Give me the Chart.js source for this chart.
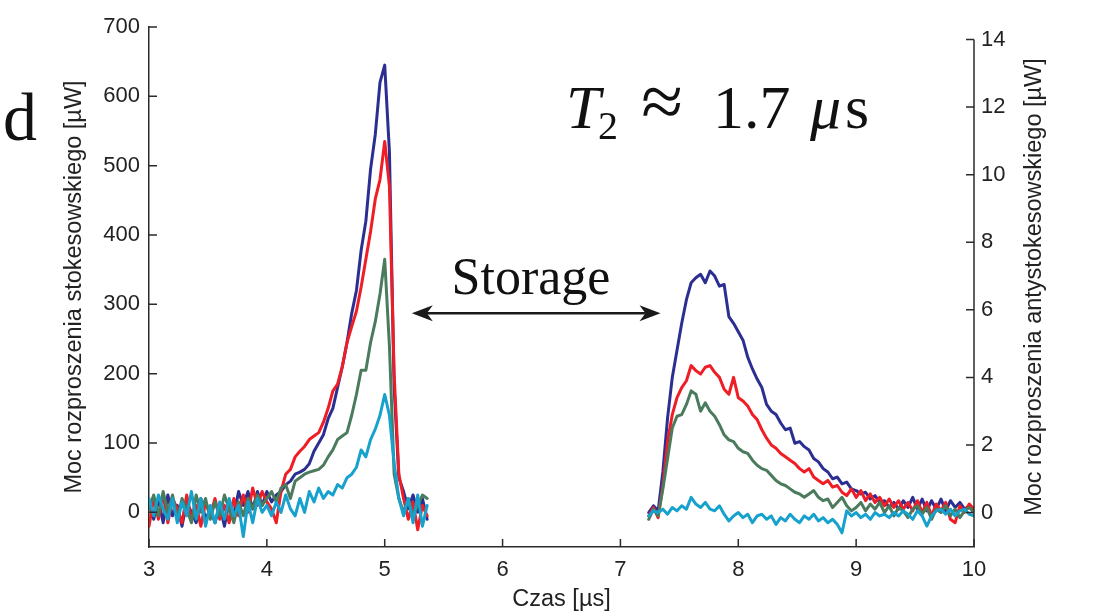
<!DOCTYPE html>
<html>
<head>
<meta charset="utf-8">
<title>T2 storage</title>
<script src="https://cdn.jsdelivr.net/npm/chart.js@4.4.0/dist/chart.umd.min.js"></script>
<style>
  html, body { margin: 0; padding: 0; background: #fff; }
  #chart { display: block; }
</style>
</head>
<body>
<canvas id="chart" width="1106" height="612"></canvas>
<script>
// Stokes pulse (left axis, µW)
const stokesTime = [
  3.00,3.04,3.08,3.12,3.16,3.20,3.24,3.28,3.32,3.36,
  3.40,3.44,3.48,3.52,3.56,3.60,3.64,3.68,3.72,3.76,
  3.80,3.84,3.88,3.92,3.96,4.00,4.04,4.08,4.12,4.16,
  4.20,4.24,4.28,4.32,4.36,4.40,4.44,4.48,4.52,4.56,
  4.60,4.64,4.68,4.72,4.76,4.80,4.84,4.88,4.92,4.96,
  5.00,5.04,5.08,5.12,5.16,5.20,5.24,5.28,5.32,5.36
];
const stokesBlue = [
  15,-10,20,-15,25,-5,10,-20,15,0,
  -15,20,-10,5,-15,10,-20,15,-5,30,
  10,30,5,30,10,30,15,25,30,40,
  45,55,58,62,70,88,100,112,135,150,
  180,210,245,287,320,378,420,495,545,620,
  645,520,180,50,30,5,25,0,20,-10
];
const stokesRed = [
  -20,20,-10,25,-15,20,5,-15,25,-10,
  10,-20,15,-5,20,-10,10,-15,20,-5,
  25,0,35,10,30,15,5,-15,30,55,
  62,80,88,95,105,110,115,130,150,175,
  185,210,245,268,290,325,365,405,452,480,
  535,470,200,55,20,-10,15,-25,10,-5
];
const stokesGreen = [
  5,25,-5,30,0,25,-10,20,5,-15,
  25,0,20,-10,15,-5,25,5,-15,15,
  -5,20,5,25,10,20,30,15,35,40,
  20,45,50,55,58,60,62,68,80,90,
  105,110,115,140,170,205,205,245,275,315,
  365,240,55,20,0,20,-5,10,25,20
];
const stokesCyan = [
  20,-5,25,5,-10,20,-15,15,-5,30,
  -10,20,-20,10,-15,15,-10,20,-5,10,
  -35,15,-15,20,0,10,-5,15,0,25,
  5,-5,20,0,30,15,35,20,30,25,
  40,35,50,55,65,90,80,105,120,140,
  170,140,70,20,-5,20,-15,25,-20,10
];

// anti-Stokes pulse (right axis, µW)
const antiTime = [
  7.24,7.28,7.32,7.36,7.40,7.44,7.48,7.52,7.56,7.60,
  7.64,7.68,7.72,7.76,7.80,7.84,7.88,7.92,7.96,8.00,
  8.04,8.08,8.12,8.16,8.20,8.24,8.28,8.32,8.36,8.40,
  8.44,8.48,8.52,8.56,8.60,8.64,8.68,8.72,8.76,8.80,
  8.84,8.88,8.92,8.96,9.00,9.04,9.08,9.12,9.16,9.20,
  9.24,9.28,9.32,9.36,9.40,9.44,9.48,9.52,9.56,9.60,
  9.64,9.68,9.72,9.76,9.80,9.84,9.88,9.92,9.96,10.00
];
const antiBlue = [
  0.0,0.2,0.05,1.2,2.8,4.0,4.8,5.6,6.3,6.8,
  6.95,7.05,6.8,7.15,7.0,6.7,6.75,5.8,5.6,5.35,
  5.1,4.6,4.25,3.95,3.7,3.2,3.0,2.9,2.65,2.45,
  2.5,2.05,2.1,1.95,1.85,1.6,1.5,1.3,1.2,1.0,
  1.05,0.85,0.9,0.7,0.65,0.55,0.6,0.4,0.5,0.3,
  0.35,0.15,0.3,0.1,0.35,0.15,0.45,0.1,0.4,0.05,
  0.35,0.1,0.4,0.05,0.35,0.15,0.3,0.1,0.2,0.1
];
const antiRed = [
  -0.1,0.15,-0.15,0.8,2.1,2.9,3.4,3.7,3.9,4.35,
  4.2,4.1,4.3,4.35,4.15,4.0,3.65,3.5,4.0,3.4,
  3.3,3.15,2.9,2.75,2.45,2.2,2.0,1.9,1.75,1.65,
  1.55,1.45,1.3,1.2,1.3,1.05,0.95,0.85,0.95,0.75,
  0.8,0.6,0.5,0.7,0.45,0.65,0.35,0.55,0.3,0.45,
  0.2,0.4,0.15,0.35,0.1,0.3,0.05,0.35,0.0,0.3,
  -0.1,0.25,0.05,0.3,-0.2,-0.3,0.2,0.0,0.25,0.1
];
const antiGreen = [
  -0.2,0.1,-0.1,0.7,1.6,2.5,2.85,2.9,3.2,3.6,
  3.5,3.0,3.25,3.0,2.85,2.6,2.3,2.15,2.1,1.9,
  1.8,1.75,1.55,1.4,1.3,1.25,1.1,0.95,0.85,0.8,
  0.7,0.6,0.55,0.45,0.55,0.65,0.45,0.35,0.4,0.15,
  0.3,0.45,0.2,0.05,0.15,0.3,0.05,0.25,0.1,0.3,
  0.0,0.2,-0.1,0.15,0.05,-0.15,0.1,0.2,-0.05,0.15,
  -0.2,0.1,0.0,0.2,-0.1,0.1,-0.15,0.05,0.15,0.0
];
const antiCyan = [
  -0.1,0.05,0.0,0.1,-0.05,0.15,0.05,0.2,0.1,0.45,
  0.25,0.15,0.3,0.1,0.05,0.2,-0.05,-0.25,-0.1,0.0,
  -0.15,-0.05,-0.3,-0.1,-0.05,-0.2,-0.1,-0.35,-0.15,-0.25,
  -0.05,-0.2,-0.3,-0.1,-0.2,-0.05,-0.25,-0.15,-0.3,-0.2,
  -0.35,-0.6,0.05,-0.1,0.0,-0.15,-0.05,-0.2,0.0,-0.1,
  -0.05,-0.15,0.0,-0.1,0.05,-0.05,-0.2,0.05,-0.1,-0.4,
  -0.1,0.05,0.1,-0.05,0.1,-0.1,0.05,0.1,-0.05,-0.1
];

const xTicks = [3, 4, 5, 6, 7, 8, 9, 10];
const leftTicks = [0, 100, 200, 300, 400, 500, 600, 700];
const rightTicks = [0, 2, 4, 6, 8, 10, 12, 14];

// "Storage" arrow, in data units (time, left axis)
const arrowFrom = 5.23;
const arrowTo = 7.34;
const arrowLevel = 287;

const colors = { blue: '#2b2f92', red: '#ee1d26', green: '#4b7b5d', cyan: '#17a1cd' };
const axisColor = '#2a2a2a';

function points(times, values) {
    return times.map((t, i) => ({ x: t, y: values[i] }));
}

function series(times, values, color, axis) {
    return {
        data: points(times, values),
        borderColor: color,
        borderWidth: 3,
        borderJoinStyle: 'round',
        borderCapStyle: 'round',
        pointRadius: 0,
        tension: 0,
        yAxisID: axis,
    };
}

// dataset 0 is drawn on top
const datasets = [
    series(stokesTime, stokesCyan, colors.cyan, 'y'),
    series(antiTime, antiCyan, colors.cyan, 'y2'),
    series(stokesTime, stokesGreen, colors.green, 'y'),
    series(antiTime, antiGreen, colors.green, 'y2'),
    series(stokesTime, stokesRed, colors.red, 'y'),
    series(antiTime, antiRed, colors.red, 'y2'),
    series(stokesTime, stokesBlue, colors.blue, 'y'),
    series(antiTime, antiBlue, colors.blue, 'y2'),
];

const sans = '"Liberation Sans", Arial, sans-serif';
const tickFont = { family: sans, size: 22 };
const titleFont = { family: sans, size: 23.5, lineHeight: 1 };

function fixedTicks(values) {
    return scale => { scale.ticks = values.map(v => ({ value: v })); };
}

// inward tick marks, the short right axis line, and the figure labels
const decorations = {
    id: 'decorations',
    afterDraw(chart) {
        const { ctx, chartArea } = chart;
        const { x, y, y2 } = chart.scales;
        const tickLen = 8;

        ctx.save();
        ctx.strokeStyle = axisColor;
        ctx.lineWidth = 1.5;

        ctx.beginPath();
        ctx.moveTo(chartArea.right, y2.getPixelForValue(rightTicks[rightTicks.length - 1]));
        ctx.lineTo(chartArea.right, chartArea.bottom);
        ctx.stroke();

        ctx.beginPath();
        xTicks.forEach(v => {
            const px = x.getPixelForValue(v);
            ctx.moveTo(px, chartArea.bottom);
            ctx.lineTo(px, chartArea.bottom - tickLen);
        });
        leftTicks.forEach(v => {
            const py = y.getPixelForValue(v);
            ctx.moveTo(chartArea.left, py);
            ctx.lineTo(chartArea.left + tickLen, py);
        });
        rightTicks.forEach(v => {
            const py = y2.getPixelForValue(v);
            ctx.moveTo(chartArea.right, py);
            ctx.lineTo(chartArea.right - tickLen, py);
        });
        ctx.stroke();

        // right axis title reads bottom to top
        ctx.fillStyle = '#222';
        ctx.font = '23.5px ' + sans;
        ctx.textAlign = 'center';
        ctx.textBaseline = 'middle';
        ctx.save();
        ctx.translate(1035, (chartArea.top + chartArea.bottom) / 2);
        ctx.rotate(-Math.PI / 2);
        ctx.fillText('Moc rozproszenia antystokesowskiego [µW]', 0, 0);
        ctx.restore();

        // double arrow between the two pulses
        const ax0 = x.getPixelForValue(arrowFrom);
        const ax1 = x.getPixelForValue(arrowTo);
        const ay = y.getPixelForValue(arrowLevel);
        const headLen = 21, headHalf = 8, notch = 15;
        ctx.fillStyle = '#1a1a1a';
        ctx.strokeStyle = '#1a1a1a';
        ctx.lineWidth = 2.5;
        ctx.beginPath();
        ctx.moveTo(ax0 + notch, ay);
        ctx.lineTo(ax1 - notch, ay);
        ctx.stroke();
        [[ax0, 1], [ax1, -1]].forEach(([tip, dir]) => {
            ctx.beginPath();
            ctx.moveTo(tip, ay);
            ctx.lineTo(tip + dir * headLen, ay - headHalf);
            ctx.lineTo(tip + dir * notch, ay);
            ctx.lineTo(tip + dir * headLen, ay + headHalf);
            ctx.closePath();
            ctx.fill();
        });

        // text labels
        const serif = '"Liberation Serif", "Times New Roman", serif';
        ctx.fillStyle = '#111';
        ctx.textBaseline = 'alphabetic';
        ctx.textAlign = 'center';
        ctx.font = '52px ' + serif;
        ctx.fillText('Storage', 531, 294);

        ctx.textAlign = 'left';
        ctx.font = '68px ' + serif;
        ctx.fillText('d', 3, 140);

        ctx.font = 'italic 62px ' + serif;
        ctx.fillText('T', 566, 128);
        ctx.font = '40px ' + serif;
        ctx.fillText('2', 598, 139);
        ctx.font = '76px ' + serif;
        ctx.textAlign = 'center';
        ctx.fillText('≈', 662, 127);
        ctx.textAlign = 'left';
        ctx.font = '62px ' + serif;
        ctx.fillText('1.7', 713, 128);
        ctx.font = 'italic 62px ' + serif;
        ctx.fillText('μ', 810, 128);
        ctx.font = '62px ' + serif;
        ctx.fillText('s', 845, 128);

        ctx.restore();
    }
};

new Chart(document.getElementById('chart'), {
    type: 'line',
    data: { datasets },
    plugins: [decorations],
    options: {
        responsive: false,
        animation: false,
        layout: { padding: { left: 0, right: 0, top: 27, bottom: 0 } },
        plugins: {
            legend: { display: false },
            tooltip: { enabled: false },
        },
        scales: {
            x: {
                type: 'linear',
                min: 3,
                max: 10,
                afterBuildTicks: fixedTicks(xTicks),
                afterFit: s => { s.height = 65; },
                grid: { drawOnChartArea: false, drawTicks: false },
                border: { color: axisColor, width: 1.5 },
                ticks: { color: '#222', font: tickFont, padding: 10, maxRotation: 0 },
                title: {
                    display: true,
                    text: 'Czas [µs]',
                    color: '#222',
                    font: titleFont,
                    padding: { top: 0, bottom: 1 },
                },
            },
            y: {
                type: 'linear',
                position: 'left',
                min: -50,
                max: 700,
                afterBuildTicks: fixedTicks(leftTicks),
                afterFit: s => { s.width = 149; },
                grid: { drawOnChartArea: false, drawTicks: false },
                border: { color: axisColor, width: 1.5 },
                ticks: { color: '#222', font: tickFont, padding: 9 },
                title: {
                    display: true,
                    text: 'Moc rozproszenia stokesowskiego [µW]',
                    color: '#222',
                    font: titleFont,
                    padding: { top: 63, bottom: 0 },
                },
            },
            y2: {
                type: 'linear',
                position: 'right',
                min: -1.02,
                max: 14.37,
                afterBuildTicks: fixedTicks(rightTicks),
                afterFit: s => { s.width = 132; },
                grid: { drawOnChartArea: false, drawTicks: false },
                border: { display: false },
                ticks: { color: '#222', font: tickFont, padding: 7 },
            },
        },
    },
});
</script>
</body>
</html>
